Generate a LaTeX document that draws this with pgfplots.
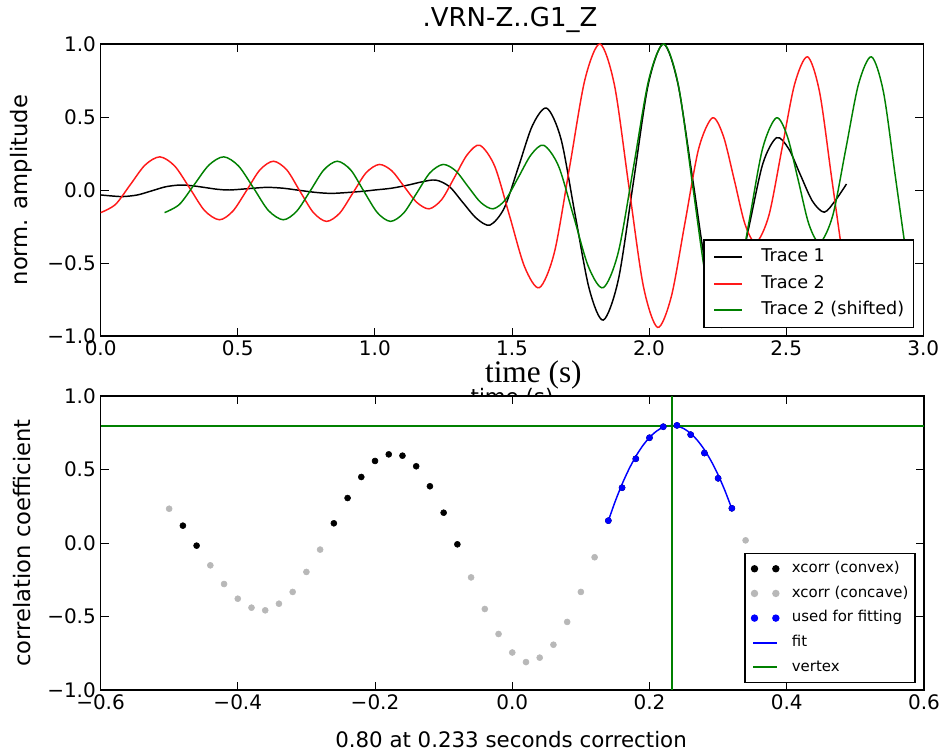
\documentclass[border=0pt]{standalone}
\usepackage{fontspec}
\setmainfont{DejaVu Sans}
\newfontfamily\timesfont{Liberation Serif}
\usepackage{pgfplots}
\pgfplotsset{compat=1.18}
\definecolor{mplgreen}{rgb}{0,0.5,0}
\definecolor{mplgray}{rgb}{0.72,0.72,0.72}
\definecolor{mplred}{rgb}{1,0.1,0.1}
\pgfplotsset{
  mpl/.style={
    scale only axis, anchor=south west,
    axis line style={line width=0.9pt},
    tick style={black, line width=0.7pt},
    major tick length=6pt,
    tick align=inside,
    tick label style={font=\fontsize{15}{15}\selectfont},
    label style={font=\fontsize{16}{16}\selectfont},
    ylabel style={font=\fontsize{17}{17}\selectfont},
    /pgf/number format/assume math mode=true,
    legend cell align=left,
  },
  toplegline/.style={legend image code/.code={\draw[##1] (0pt,0pt) -- (21pt,0pt);}},
  toplegshift/.style={legend image code/.code={\draw[##1] (0pt,0.35pt) -- (21pt,0.35pt);}},
  botlegline/.style={legend image code/.code={\draw[##1] (-1pt,0pt) -- (17pt,0pt);}},
  botlegshift/.style={legend image code/.code={\draw[##1] (-1pt,0.35pt) -- (17pt,0.35pt);}},
  botlegmark/.style={legend image code/.code={\draw[##1] plot coordinates {(0pt,0pt)(16pt,0pt)};}},
}
\begin{document}
\begin{tikzpicture}
\path[use as bounding box] (0pt,0pt) rectangle (705.75pt,566.25pt);

% ---------------- top axis ----------------
\begin{axis}[mpl,
  at={(75.5pt,314.25pt)}, width=616.95pt, height=219pt,
  xmin=0, xmax=3, ymin=-1, ymax=1,
  xtick={0,0.5,1,1.5,2,2.5,3},
  xticklabels={0.0,0.5,1.0,1.5,2.0,2.5,3.0},
  ytick={-1,-0.5,0,0.5,1},
  yticklabels={−1.0,−0.5,0.0,0.5,1.0},
  title={.VRN-Z..G1\_Z},
  title style={at={(axis description cs:0.4976,1.034)}, anchor=base, font=\fontsize{19.5}{19.5}\selectfont},
  ylabel={norm. amplitude},
  ylabel style={at={(axis description cs:-0.096,0.5)}, anchor=center},
  legend style={at={(rel axis cs:0.989,0.026)}, anchor=south east,
    draw=black, line width=1pt, fill=white,
    font=\fontsize{13.2}{15}\selectfont,
    inner xsep=7pt, inner ysep=6.4pt,
    nodes={inner sep=0pt, text height=10pt, text depth=3.5pt},
    row sep=6.2pt,
    /tikz/every odd column/.append style={column sep=14pt}},
]
\addplot[black, line width=1.1pt, smooth, toplegshift] coordinates {
(0,-0.034)(0.041,-0.041)(0.082,-0.045)(0.134,-0.034)(0.186,-0.006)(0.237,0.022)(0.289,0.034)(0.334,0.029)(0.380,0.017)(0.425,0.005)(0.470,0.0)(0.537,0.009)(0.605,0.018)(0.666,0.012)(0.727,-0.003)(0.787,-0.017)(0.848,-0.023)(0.950,-0.010)(1.000,0.0)(1.060,0.012)(1.122,0.034)(1.170,0.055)(1.222,0.068)(1.272,0.023)(1.321,-0.086)(1.371,-0.195)(1.420,-0.240)(1.472,-0.123)(1.524,0.160)(1.575,0.443)(1.627,0.560)(1.679,0.348)(1.730,-0.166)(1.782,-0.679)(1.833,-0.891)(1.888,-0.614)(1.943,0.055)(1.997,0.723)(2.052,1.0)(2.105,0.729)(2.159,0.075)(2.212,-0.579)(2.265,-0.850)(2.315,-0.673)(2.365,-0.246)(2.415,0.181)(2.465,0.358)(2.509,0.283)(2.552,0.103)(2.596,-0.077)(2.639,-0.152)(2.680,-0.070)(2.720,0.041)
};
\addlegendentry{Trace 1}
\addplot[mplred, line width=1.1pt, smooth, toplegline] coordinates {
(0,-0.155)(0.054,-0.099)(0.108,0.036)(0.162,0.171)(0.216,0.227)(0.270,0.164)(0.325,0.012)(0.379,-0.141)(0.433,-0.204)(0.482,-0.145)(0.532,-0.004)(0.581,0.138)(0.630,0.197)(0.679,0.137)(0.727,-0.009)(0.776,-0.155)(0.824,-0.215)(0.872,-0.158)(0.920,-0.020)(0.968,0.118)(1.016,0.175)(1.062,0.131)(1.107,0.023)(1.153,-0.085)(1.198,-0.129)(1.244,-0.065)(1.291,0.089)(1.337,0.242)(1.383,0.306)(1.437,0.163)(1.492,-0.182)(1.546,-0.526)(1.600,-0.669)(1.655,-0.425)(1.711,0.166)(1.766,0.756)(1.821,1.0)(1.874,0.716)(1.926,0.030)(1.979,-0.657)(2.031,-0.941)(2.081,-0.731)(2.131,-0.224)(2.181,0.284)(2.231,0.494)(2.271,0.369)(2.311,0.067)(2.350,-0.235)(2.390,-0.36)(2.437,-0.174)(2.484,0.276)(2.531,0.726)(2.578,0.912)(2.622,0.669)(2.666,0.081)(2.710,-0.507)(2.720,-0.60)
};
\addlegendentry{Trace 2}
\addplot[mplgreen, line width=1.1pt, smooth, toplegline] coordinates {
(0.233,-0.155)(0.287,-0.099)(0.341,0.036)(0.395,0.171)(0.449,0.227)(0.503,0.164)(0.558,0.012)(0.612,-0.141)(0.666,-0.204)(0.715,-0.145)(0.765,-0.004)(0.814,0.138)(0.863,0.197)(0.912,0.137)(0.960,-0.009)(1.009,-0.155)(1.057,-0.215)(1.105,-0.158)(1.153,-0.020)(1.201,0.118)(1.249,0.175)(1.295,0.131)(1.340,0.023)(1.386,-0.085)(1.431,-0.129)(1.477,-0.065)(1.524,0.089)(1.570,0.242)(1.616,0.306)(1.670,0.163)(1.725,-0.182)(1.779,-0.526)(1.833,-0.669)(1.888,-0.425)(1.944,0.166)(1.999,0.756)(2.054,1.0)(2.107,0.716)(2.159,0.030)(2.212,-0.657)(2.264,-0.941)(2.314,-0.731)(2.364,-0.224)(2.414,0.284)(2.464,0.494)(2.504,0.369)(2.544,0.067)(2.583,-0.235)(2.623,-0.36)(2.670,-0.174)(2.717,0.276)(2.764,0.726)(2.811,0.912)(2.855,0.669)(2.899,0.081)(2.943,-0.507)(2.953,-0.60)
};
\addlegendentry{Trace 2 (shifted)}
\end{axis}

% original matplotlib x label, mostly hidden under the lower axis
\node[font=\fontsize{16}{16}\selectfont, inner sep=0pt, anchor=north] at (384pt,275.25pt) {time (s)};
% overprinted serif x label
\node[font=\timesfont\fontsize{23.5}{23.5}\selectfont, inner sep=0pt, anchor=base] at (400pt,279pt) {time (s)};

% ---------------- bottom axis ----------------
\begin{axis}[mpl,
  at={(75.4pt,48.75pt)}, width=617.6pt, height=220.5pt,
  axis background/.style={fill=white},
  xmin=-0.6, xmax=0.6, ymin=-1, ymax=1,
  xtick={-0.6,-0.4,-0.2,0,0.2,0.4,0.6},
  xticklabels={−0.6,−0.4,−0.2,0.0,0.2,0.4,0.6},
  ytick={-1,-0.5,0,0.5,1},
  yticklabels={−1.0,−0.5,0.0,0.5,1.0},
  ylabel={correlation coefficient},
  ylabel style={at={(axis description cs:-0.0953,0.5)}, anchor=center},
  xlabel={0.80 at 0.233 seconds correction},
  xlabel style={at={(axis description cs:0.4985,-0.197)}, anchor=base},
  legend style={at={(rel axis cs:0.990,0.023)}, anchor=south east,
    draw=black, line width=1pt, fill=white,
    font=\fontsize{11.2}{13}\selectfont,
    inner xsep=5pt, inner ysep=5.6pt,
    nodes={inner sep=0pt, text height=8.5pt, text depth=3pt},
    row sep=7pt,
    /tikz/every odd column/.append style={column sep=9.8pt}},
]
\addplot[only marks, mark=*, mark size=2.25pt, black, botlegmark] coordinates {
(-0.48,0.118)(-0.46,-0.018)(-0.26,0.134)(-0.24,0.306)(-0.22,0.449)(-0.20,0.558)(-0.18,0.603)(-0.16,0.594)(-0.14,0.522)(-0.12,0.386)(-0.10,0.206)(-0.08,-0.009)
(0.14,0.152)(0.16,0.376)(0.18,0.573)(0.20,0.716)(0.22,0.791)(0.24,0.800)(0.26,0.737)(0.28,0.612)(0.30,0.440)(0.32,0.236)
};
\addlegendentry{xcorr (convex)}
\addplot[only marks, mark=*, mark size=2.25pt, mplgray, botlegmark] coordinates {
(-0.50,0.233)(-0.44,-0.152)(-0.42,-0.279)(-0.40,-0.379)(-0.38,-0.440)(-0.36,-0.458)(-0.34,-0.413)(-0.32,-0.333)(-0.30,-0.197)(-0.28,-0.045)
(-0.06,-0.234)(-0.04,-0.449)(-0.02,-0.619)(0.00,-0.745)(0.02,-0.810)(0.04,-0.780)(0.06,-0.692)(0.08,-0.537)(0.10,-0.333)(0.12,-0.097)(0.34,0.018)
};
\addlegendentry{xcorr (concave)}
\addplot[only marks, mark=*, mark size=2.25pt, blue, botlegmark] coordinates {
(0.14,0.152)(0.16,0.376)(0.18,0.573)(0.20,0.716)(0.22,0.791)(0.24,0.800)(0.26,0.737)(0.28,0.612)(0.30,0.440)(0.32,0.236)
};
\addlegendentry{used for fitting}
\addplot[blue, line width=1.1pt, smooth, botlegline] coordinates {
(0.14,0.151)(0.15,0.283)(0.16,0.400)(0.17,0.502)(0.18,0.589)(0.19,0.661)(0.20,0.718)(0.21,0.760)(0.22,0.787)(0.233,0.800)(0.24,0.796)(0.25,0.778)(0.26,0.745)(0.27,0.697)(0.28,0.634)(0.29,0.556)(0.30,0.463)(0.31,0.355)(0.32,0.232)
};
\addlegendentry{fit}
\addplot[mplgreen, line width=1.1pt, botlegshift] coordinates {(-0.6,0.797)(0.6,0.797)};
\addlegendentry{vertex}
\addplot[mplgreen, line width=1.1pt, forget plot] coordinates {(0.233,-1)(0.233,1)};
\end{axis}
\end{tikzpicture}
\end{document}
